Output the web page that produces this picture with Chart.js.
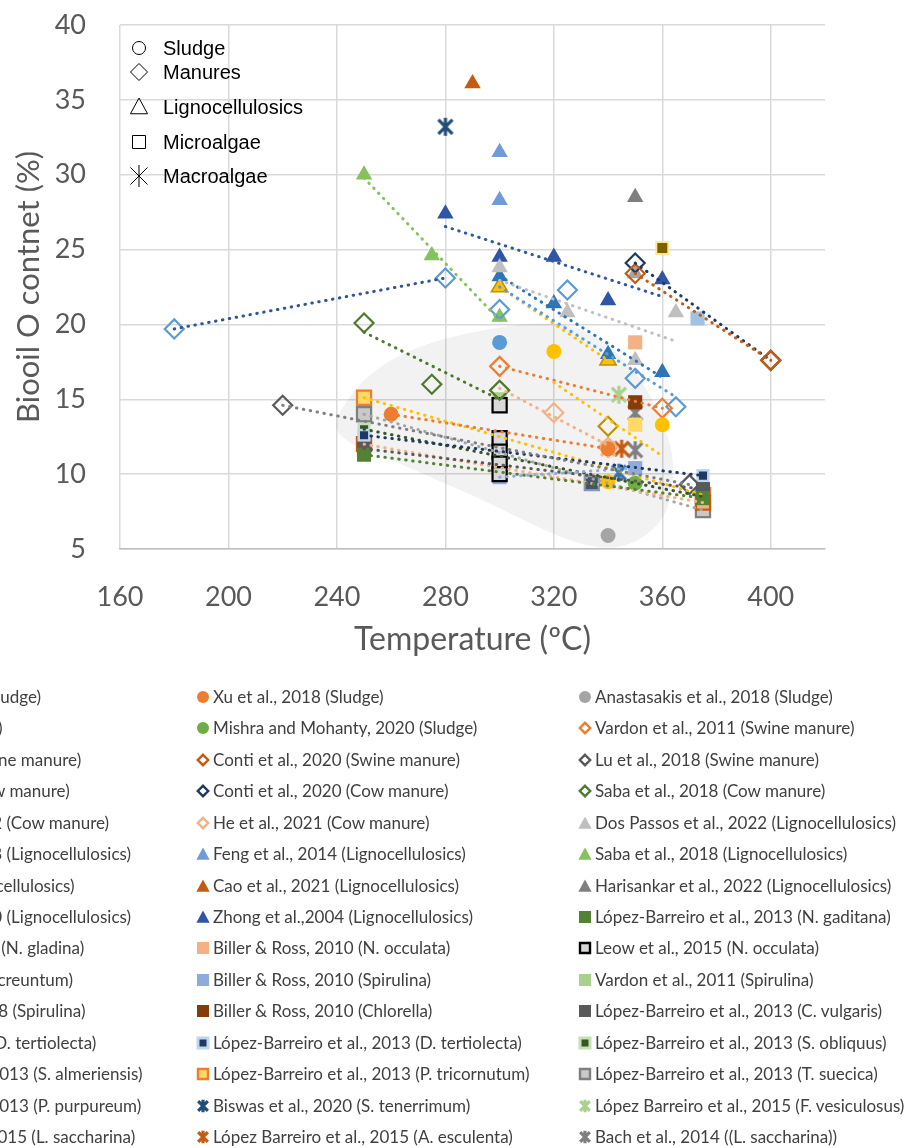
<!DOCTYPE html>
<html>
<head>
<meta charset="utf-8">
<script src="https://cdn.jsdelivr.net/npm/chart.js@4.4.1/dist/chart.umd.min.js"></script>
<style>
  html, body { margin: 0; padding: 0; background: #fff; overflow: hidden; }
  #wrap { position: relative; width: 913px; height: 1148px; overflow: hidden; }
  #chart { position: absolute; left: 0; top: 0; }
  .item { position: absolute; height: 20px; line-height: 20px; white-space: nowrap;
          font-family: Lato, sans-serif; font-size: 17px; color: #404040; }
  .item canvas { position: absolute; left: -17px; top: 3px; }
</style>
</head>
<body>
<div id="wrap">
  <canvas id="chart" width="913" height="1148"></canvas>
  <div id="legend"></div>
</div>
<script>
// legend order is row by row, 3 columns (first column is cut off in the figure)
const seriesLabels = [
  'Authors et al., 2019 (Sludge)', 'Xu et al., 2018 (Sludge)', 'Anastasakis et al., 2018 (Sludge)',
  'Author et al., 2020 (SS)', 'Mishra and Mohanty, 2020 (Sludge)', 'Vardon et al., 2011 (Swine manure)',
  'Author et al 2020 (Swine manure)', 'Conti et al., 2020 (Swine manure)', 'Lu et al., 2018 (Swine manure)',
  'Author et al 2017 (Cow manure)', 'Conti et al., 2020 (Cow manure)', 'Saba et al., 2018 (Cow manure)',
  'Author & Author, 2022 (Cow manure)', 'He et al., 2021 (Cow manure)', 'Dos Passos et al., 2022 (Lignocellulosics)',
  'Author & Author, 2018 (Lignocellulosics)', 'Feng et al., 2014 (Lignocellulosics)', 'Saba et al., 2018 (Lignocellulosics)',
  'Author A, 2021 (Lignocellulosics)', 'Cao et al., 2021 (Lignocellulosics)', 'Harisankar et al., 2022 (Lignocellulosics)',
  'Author & Author, 2020 (Lignocellulosics)', 'Zhong et al.,2004 (Lignocellulosics)', 'López-Barreiro et al., 2013 (N. gaditana)',
  'Author AB et al., 2017 (N. gladina)', 'Biller & Ross, 2010 (N. occulata)', 'Leow et al., 2015 (N. occulata)',
  'Biller & Ross, 2010 (P. creuntum)', 'Biller & Ross, 2010 (Spirulina)', 'Vardon et al., 2011 (Spirulina)',
  'Author and Autor, 2018 (Spirulina)', 'Biller & Ross, 2010 (Chlorella)', 'López-Barreiro et al., 2013 (C. vulgaris)',
  'Author A et al., 1995 (D. tertiolecta)', 'López-Barreiro et al., 2013 (D. tertiolecta)', 'López-Barreiro et al., 2013 (S. obliquus)',
  'López-Barreiro et al., 2013 (S. almeriensis)', 'López-Barreiro et al., 2013 (P. tricornutum)', 'López-Barreiro et al., 2013 (T. suecica)',
  'López-Barreiro et al., 2013 (P. purpureum)', 'Biswas et al., 2020 (S. tenerrimum)', 'López Barreiro et al., 2015 (F. vesiculosus)',
  'López Barreiro et al., 2015 (L. saccharina)', 'López Barreiro et al., 2015 (A. esculenta)', 'Bach et al., 2014 ((L. saccharina))'
];

// temperature (ºC) of each point, per series
const seriesTemp = [
  [300], [260, 340], [340],
  [320, 340, 360], [350], [300, 360],
  [300, 325, 350, 365], [350, 400], [220, 370],
  [180, 280], [350, 400], [250, 275, 300],
  [340], [300, 320, 340], [300, 325, 350, 365],
  [300, 320, 340, 360], [300, 300], [250, 275, 300],
  [300, 340], [290], [350],
  [350], [280, 300, 320, 340, 360], [250, 375],
  [334], [350], [300, 300, 300, 300, 300],
  [350], [300, 350], [300],
  [373], [350], [250, 375],
  [360], [250, 375], [250, 375],
  [250, 375], [250, 375], [250, 375],
  [344], [280], [344],
  [340], [345], [350, 350]
];

// biooil O content (%) of each point, per series
const seriesOxygen = [
  [18.8], [14.0, 11.7], [5.9],
  [18.2, 9.5, 13.3], [9.4], [17.2, 14.4],
  [21.0, 22.3, 16.4, 14.5], [23.4, 17.6], [14.6, 9.3],
  [19.7, 23.1], [24.1, 17.6], [20.1, 16.0, 15.6],
  [13.2], [15.6, 14.1, 11.8], [23.8, 20.8, 17.6, 20.8],
  [23.2, 21.4, 18.0, 16.8], [31.5, 28.3], [30.0, 24.6, 20.5],
  [22.5, 17.6], [36.1], [28.5],
  [23.4], [27.4, 24.5, 24.5, 21.6, 23.0], [11.3, 8.4],
  [9.4], [18.8], [14.6, 12.4, 11.5, 10.7, 10.0],
  [13.3], [9.8, 10.4], [15.0],
  [20.4], [14.8], [11.7, 9.0],
  [25.1], [12.6, 9.9], [13.0, 8.5],
  [12.0, 8.1], [15.1, 8.6], [14.0, 7.6],
  [10.1], [33.2], [15.3],
  [11.7], [11.7], [11.6, 14.1]
];

// feedstock groups shown in the plot corner
const groupLabels = ['Sludge', 'Manures', 'Lignocellulosics', 'Microalgae', 'Macroalgae'];
const groupShapes = ['circle', 'diamond', 'triangle', 'square', 'star'];

// hand-drawn shaded zone (temperature, O content) around the low-oxygen cluster
const zoneTemp = [240, 252, 272, 300, 322, 337, 351, 360, 364, 361, 351, 338, 320, 292, 262, 245];
const zoneOxygen = [13.6, 16.6, 18.6, 19.8, 20.0, 19.0, 16.5, 13.5, 10.5, 7.4, 5.6, 5.1, 6.0, 8.4, 10.8, 12.1];

// marker styling
const seriesShape = [
  'circle', 'circle', 'circle', 'circle', 'circle',
  'diamond', 'diamond', 'diamond', 'diamond', 'diamond', 'diamond', 'diamond', 'diamond', 'diamond',
  'triangle', 'triangle', 'triangle', 'triangle', 'triangle', 'triangle', 'triangle', 'triangle', 'triangle',
  'square', 'square', 'square', 'square', 'square', 'square', 'square', 'square', 'square',
  'square', 'square', 'small', 'small', 'square', 'square', 'square',
  'star', 'star', 'star', 'star', 'star', 'star'
];
const seriesFill = [
  '#5B9BD5', '#ED7D31', '#A5A5A5', '#FFC000', '#70AD47',
  null, null, null, null, null, null, null, null, null,
  '#BFBFBF', '#2E75B6', '#6F9BDB', '#84C25E', '#FFC000', '#C55A11', '#7F7F7F', '#A5A5A5', '#2F55A4',
  '#548235', '#44546A', '#F4B183', '#D9D9D9', '#FFD966', '#8FAADC', '#A9D18E', '#9DC3E6', '#843C0C',
  '#595959', '#7F6000', '#1F3864', '#375623', '#F4B183', '#FFD966', '#C9C9C9',
  null, null, null, null, null, null
];
const seriesEdge = [
  '#5B9BD5', '#ED7D31', '#A5A5A5', '#FFC000', '#70AD47',
  '#ED7D31', '#5B9BD5', '#C55A11', '#595959', '#5B9BD5', '#203864', '#4E7A2F', '#BF9000', '#F4B183',
  '#BFBFBF', '#2E75B6', '#6F9BDB', '#84C25E', '#BF9000', '#C55A11', '#7F7F7F', '#A5A5A5', '#2F55A4',
  '#548235', '#8497B0', '#F4B183', '#000000', '#FFD966', '#8FAADC', '#A9D18E', '#9DC3E6', '#843C0C',
  '#595959', '#FFE699', '#BDD7EE', '#C5E0B4', '#C55A11', '#ED7D31', '#7F7F7F',
  '#2E75B6', '#1F4E79', '#A9D18E', '#F4B183', '#C55A11', '#7F7F7F'
];
const seriesTrend = [
  null, '#ED7D31', null, '#FFC000', null,
  '#ED7D31', '#5B9BD5', '#C55A11', '#7F7F7F', '#2F5597', '#203864', '#4E7A2F', null, '#F4B183',
  '#BFBFBF', '#2E75B6', null, '#84C25E', '#FFC000', null, null, null, '#2F55A4',
  '#548235', null, null, null, null, '#8FAADC', null, null, null,
  '#595959', null, '#1F3864', '#375623', '#F4B183', '#FFC000', '#A5A5A5',
  null, null, null, null, null, null
];

// ---------- drawing helpers ----------
function drawMarker(ctx, shape, x, y, s, fill, edge, lw) {
  ctx.save();
  ctx.lineWidth = lw;
  ctx.strokeStyle = edge;
  ctx.fillStyle = fill || 'rgba(0,0,0,0)';
  ctx.lineJoin = 'miter';
  ctx.beginPath();
  if (shape === 'circle') {
    ctx.arc(x, y, s, 0, Math.PI * 2);
  } else if (shape === 'diamond') {
    ctx.moveTo(x, y - s); ctx.lineTo(x + s, y); ctx.lineTo(x, y + s); ctx.lineTo(x - s, y); ctx.closePath();
  } else if (shape === 'triangle') {
    ctx.moveTo(x, y - s); ctx.lineTo(x + s * 0.95, y + s * 0.75); ctx.lineTo(x - s * 0.95, y + s * 0.75); ctx.closePath();
  } else if (shape === 'square' || shape === 'small') {
    ctx.rect(x - s, y - s, 2 * s, 2 * s);
  } else if (shape === 'star') {
    const d = s * 0.78;
    ctx.moveTo(x, y - s); ctx.lineTo(x, y + s);
    ctx.moveTo(x - d, y - d); ctx.lineTo(x + d, y + d);
    ctx.moveTo(x + d, y - d); ctx.lineTo(x - d, y + d);
    ctx.stroke();
    ctx.restore();
    return;
  }
  if (fill) ctx.fill();
  if (lw > 0) ctx.stroke();
  ctx.restore();
}

function starImage(color, s, lw) {
  const c = document.createElement('canvas');
  c.width = c.height = Math.ceil(2 * s + lw + 2);
  drawMarker(c.getContext('2d'), 'star', c.width / 2, c.height / 2, s, null, color, lw);
  return c;
}

function fitLine(xs, ys) {
  const n = xs.length;
  const mx = xs.reduce((a, b) => a + b, 0) / n;
  const my = ys.reduce((a, b) => a + b, 0) / n;
  let sxx = 0, sxy = 0;
  for (let i = 0; i < n; i++) {
    sxx += (xs[i] - mx) * (xs[i] - mx);
    sxy += (xs[i] - mx) * (ys[i] - my);
  }
  if (sxx === 0) return null;
  const b = sxy / sxx, a = my - b * mx;
  const x0 = Math.min(...xs), x1 = Math.max(...xs);
  return [{ x: x0, y: a + b * x0 }, { x: x1, y: a + b * x1 }];
}

// ---------- datasets ----------
const pointSets = seriesLabels.map((label, i) => {
  const shape = seriesShape[i];
  const ds = {
    label: label,
    data: seriesTemp[i].map((t, j) => ({ x: t, y: seriesOxygen[i][j] })),
    backgroundColor: seriesFill[i] || 'rgba(0,0,0,0)',
    borderColor: seriesEdge[i],
    order: 1
  };
  if (shape === 'circle') { ds.pointStyle = 'circle'; ds.pointRadius = 7.5; ds.pointBorderWidth = 0; }
  if (shape === 'diamond') { ds.pointStyle = 'rectRot'; ds.pointRadius = 9.5; ds.pointBorderWidth = 2.2; }
  if (shape === 'triangle') { ds.pointStyle = 'triangle'; ds.pointRadius = 9.5; ds.pointBorderWidth = 0; }
  if (shape === 'square') {
    ds.pointStyle = 'rect'; ds.pointRadius = 10;
    ds.pointBorderWidth = (seriesFill[i] === seriesEdge[i] || i === 25 || i === 28 || i === 30 || i === 32) ? 0 : 2.2;
  }
  if (i === 33) { ds.pointRadius = 8.5; ds.pointBorderWidth = 2; }
  if (shape === 'small') { ds.pointStyle = 'rect'; ds.pointRadius = 7.5; ds.pointBorderWidth = 2.5; }
  if (shape === 'triangle' && i === 18) ds.pointBorderWidth = 1.5;
  if (shape === 'star') { ds.pointStyle = starImage(seriesEdge[i], 9, 3.2); ds.pointRadius = 10; }
  return ds;
});

const trendSets = [];
seriesLabels.forEach((label, i) => {
  if (!seriesTrend[i]) return;
  const ends = fitLine(seriesTemp[i], seriesOxygen[i]);
  if (!ends) return;
  trendSets.push({
    type: 'line',
    label: label + ' trend',
    isTrend: true,
    data: ends,
    showLine: true,
    borderColor: seriesTrend[i],
    borderWidth: 3,
    borderDash: [0.5, 6.5],
    borderCapStyle: 'round',
    pointRadius: 0,
    fill: false,
    order: 0
  });
});

// ---------- plugins ----------
const zonePlugin = {
  id: 'zone',
  beforeDatasetsDraw(chart) {
    const xs = chart.scales.x, ys = chart.scales.y, ctx = chart.ctx;
    const pts = zoneTemp.map((t, i) => [xs.getPixelForValue(t), ys.getPixelForValue(zoneOxygen[i])]);
    const n = pts.length;
    ctx.save();
    ctx.beginPath();
    ctx.moveTo(pts[0][0], pts[0][1]);
    for (let i = 0; i < n; i++) {
      const p0 = pts[(i - 1 + n) % n], p1 = pts[i], p2 = pts[(i + 1) % n], p3 = pts[(i + 2) % n];
      ctx.bezierCurveTo(
        p1[0] + (p2[0] - p0[0]) / 6, p1[1] + (p2[1] - p0[1]) / 6,
        p2[0] - (p3[0] - p1[0]) / 6, p2[1] - (p3[1] - p1[1]) / 6,
        p2[0], p2[1]);
    }
    ctx.closePath();
    ctx.fillStyle = 'rgba(0,0,0,0.05)';
    ctx.fill();
    ctx.restore();
  }
};

const groupPlugin = {
  id: 'groups',
  afterDraw(chart) {
    const ctx = chart.ctx;
    const left = chart.chartArea.left, top = chart.chartArea.top;
    const rows = [23, 47, 82, 117, 151];
    const sizes = [6.5, 8.5, 9, 6.5, 11];
    ctx.save();
    groupLabels.forEach((g, i) => {
      const y = top + rows[i];
      drawMarker(ctx, groupShapes[i], left + 19, y, sizes[i], null, '#000', 1);
      ctx.font = '20px "Liberation Sans", Arial, sans-serif';
      ctx.fillStyle = '#000';
      ctx.textBaseline = 'middle';
      ctx.fillText(g, left + 43, y + 1);
    });
    ctx.restore();
  }
};

const chart = new Chart(document.getElementById('chart'), {
  type: 'scatter',
  data: { datasets: trendSets.concat(pointSets) },
  options: {
    responsive: false,
    animation: false,
    layout: { padding: { left: 0, top: 25, right: 88, bottom: 489 } },
    plugins: { legend: { display: false }, tooltip: { enabled: false } },
    scales: {
      x: {
        type: 'linear', min: 160, max: 420,
        afterFit: s => { s.height = 110; },
        ticks: { stepSize: 40, includeBounds: false, color: '#595959',
                 font: { family: 'Lato', size: 27 }, padding: 32 },
        grid: { color: '#D9D9D9', lineWidth: 1.5, drawTicks: false },
        border: { color: '#BFBFBF', width: 1.5 },
        title: { display: true, text: 'Temperature (ºC)', color: '#595959',
                 font: { family: 'Lato', size: 32 }, padding: { top: 0, bottom: 0 } }
      },
      y: {
        min: 5, max: 40,
        afterFit: s => { s.width = 120; s.paddingTop = 0; s.paddingBottom = 0; },
        ticks: { stepSize: 5, color: '#595959', font: { family: 'Lato', size: 27 }, padding: 34 },
        grid: { color: '#D9D9D9', lineWidth: 1.5, drawTicks: false },
        border: { display: false },
        title: { display: true, text: 'Biooil O contnet (%)', color: '#595959',
                 font: { family: 'Lato', size: 31 }, padding: { top: 10, bottom: 0 } }
      }
    }
  },
  plugins: [zonePlugin, groupPlugin]
});

// ---------- legend below the plot, 3 columns ----------
const legendBox = document.getElementById('legend');
const colMarker = [-179, 203, 585];
const rowTop = 697, rowStep = 31.43;
chart.data.datasets.filter(d => !d.isTrend).forEach((d, i) => {
  const idx = seriesLabels.indexOf(d.label);
  const r = Math.floor(i / 3), c = i % 3;
  const item = document.createElement('div');
  item.className = 'item';
  item.style.left = (colMarker[c] + 10) + 'px';
  item.style.top = (rowTop + r * rowStep - 10) + 'px';
  const cv = document.createElement('canvas');
  cv.width = 14; cv.height = 14;
  const shape = seriesShape[idx];
  const g = cv.getContext('2d');
  if (shape === 'circle') drawMarker(g, 'circle', 7, 7, 6, seriesFill[idx], seriesEdge[idx], 0);
  else if (shape === 'diamond') drawMarker(g, 'diamond', 7, 7, 5.2, null, seriesEdge[idx], 2.4);
  else if (shape === 'triangle') drawMarker(g, 'triangle', 7, 7.5, 7, seriesFill[idx], seriesEdge[idx], 0);
  else if (shape === 'small') drawMarker(g, 'square', 7, 7, 5, seriesFill[idx], seriesEdge[idx], 3);
  else if (shape === 'square') {
    const bw = d.pointBorderWidth ? 2.4 : 0;
    drawMarker(g, 'square', 7, 7, bw ? 5 : 6, seriesFill[idx], seriesEdge[idx], bw);
  } else drawMarker(g, 'star', 7, 7, 6.2, null, seriesEdge[idx], 3.2);
  item.appendChild(cv);
  item.appendChild(document.createTextNode(d.label));
  legendBox.appendChild(item);
});
</script>
</body>
</html>
